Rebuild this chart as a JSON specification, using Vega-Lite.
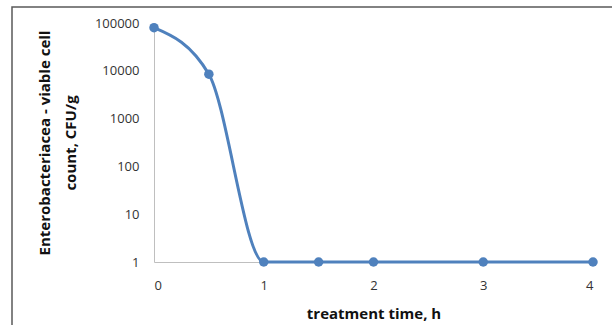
{
  "$schema": "https://vega.github.io/schema/vega-lite/v6.json",
  "autosize": {"type": "none"},
  "padding": {"left": 12, "top": 7, "right": 0, "bottom": 0},
  "width": 600,
  "height": 318,
  "background": "white",
  "config": {
    "view": {"stroke": "#5a5a5a", "strokeWidth": 1.5, "strokeDash": [600, 918, 318, 2]},
    "font": "Open Sans"
  },
  "data": {
    "values": [
      {"time": 0, "count": 80000},
      {"time": 0.5, "count": 8500},
      {"time": 1, "count": 1},
      {"time": 1.5, "count": 1},
      {"time": 2, "count": 1},
      {"time": 3, "count": 1},
      {"time": 4, "count": 1}
    ]
  },
  "encoding": {
    "x": {
      "field": "time", "type": "quantitative",
      "scale": {"domain": [0, 4], "range": [142, 581], "nice": false, "zero": false},
      "axis": {
        "values": [0, 1, 2, 3, 4], "offset": -63, "grid": false, "ticks": false,
        "domainColor": "#bfbfbf", "domainWidth": 1,
        "labelFont": "Open Sans", "labelFontSize": 13, "labelColor": "#333333", "labelPadding": 17,
        "title": "treatment time, h", "titleFont": "Open Sans", "titleFontSize": 15, "titleFontWeight": "bold",
        "titleColor": "#111111", "titlePadding": 14
      }
    },
    "y": {
      "field": "count", "type": "quantitative",
      "scale": {"type": "log", "domain": [1, 100000], "range": [255, 16], "nice": false},
      "axis": {
        "values": [1, 10, 100, 1000, 10000, 100000], "format": "d", "offset": -142, "grid": false, "ticks": false,
        "domainColor": "#bfbfbf", "domainWidth": 1,
        "labelFont": "Open Sans", "labelFontSize": 13, "labelColor": "#333333", "labelPadding": 15,
        "title": ["Enterobacteriacea - viable cell", "count, CFU/g"],
        "titleFont": "Open Sans", "titleFontSize": 15, "titleFontWeight": "bold", "titleColor": "#111111",
        "titleLineHeight": 26, "titlePadding": 16
      }
    }
  },
  "layer": [
    {"mark": {"type": "line", "interpolate": "monotone", "color": "#4f81bd", "strokeWidth": 3}},
    {"mark": {"type": "point", "filled": true, "opacity": 1, "color": "#4f81bd", "size": 90}}
  ]
}
